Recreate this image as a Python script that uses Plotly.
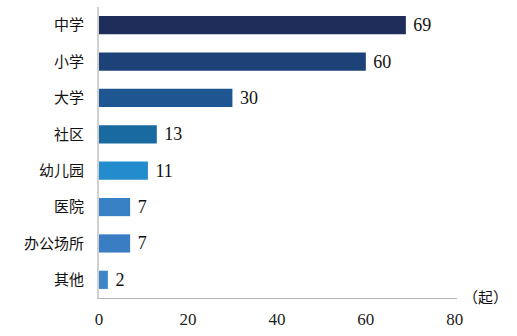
import plotly.graph_objects as go

categories = ["中学", "小学", "大学", "社区", "幼儿园", "医院", "办公场所", "其他"]
values = [69, 60, 30, 13, 11, 7, 7, 2]
colors = ["#1e2d5a", "#1c4278", "#1e5691", "#186aa0", "#228ccd", "#3880c4", "#3a7dc2", "#3d86c8"]
tick_vals = [0, 20, 40, 60, 80]
unit_label = "（起）"

serif = "'Liberation Serif', 'Times New Roman', 'Noto Sans CJK SC', serif"

fig = go.Figure(go.Bar(
    x=values,
    y=categories,
    orientation="h",
    marker=dict(color=colors, line=dict(width=0)),
    width=0.5,
    texttemplate=" %{x}",
    textposition="outside",
    constraintext="none",
    cliponaxis=False,
    textfont=dict(family=serif, size=18, color="#111111"),
))

fig.update_layout(
    width=517, height=336,
    margin=dict(l=99, r=60, t=7, b=33),
    paper_bgcolor="white", plot_bgcolor="white",
    showlegend=False,
    bargap=0.5,
    xaxis=dict(
        range=[0, 80.5], tickvals=tick_vals, showgrid=False, zeroline=False,
        showline=True, linecolor="#b5b5b5", linewidth=1, ticks="",
        tickfont=dict(family=serif, size=17, color="#222222"),
        ticklabelstandoff=6,
    ),
    yaxis=dict(
        autorange="reversed", showgrid=False, zeroline=False,
        showline=True, linecolor="#d0d0d0", linewidth=2, ticks="",
        tickfont=dict(family=serif, size=15, color="#111111"),
        ticklabelstandoff=10,
    ),
    annotations=[dict(
        text=unit_label, xref="paper", yref="paper", x=1, y=0,
        xanchor="left", yanchor="middle", xshift=4, showarrow=False,
        font=dict(family=serif, size=15, color="#111111"),
    )],
)

fig.write_html("out.html")
